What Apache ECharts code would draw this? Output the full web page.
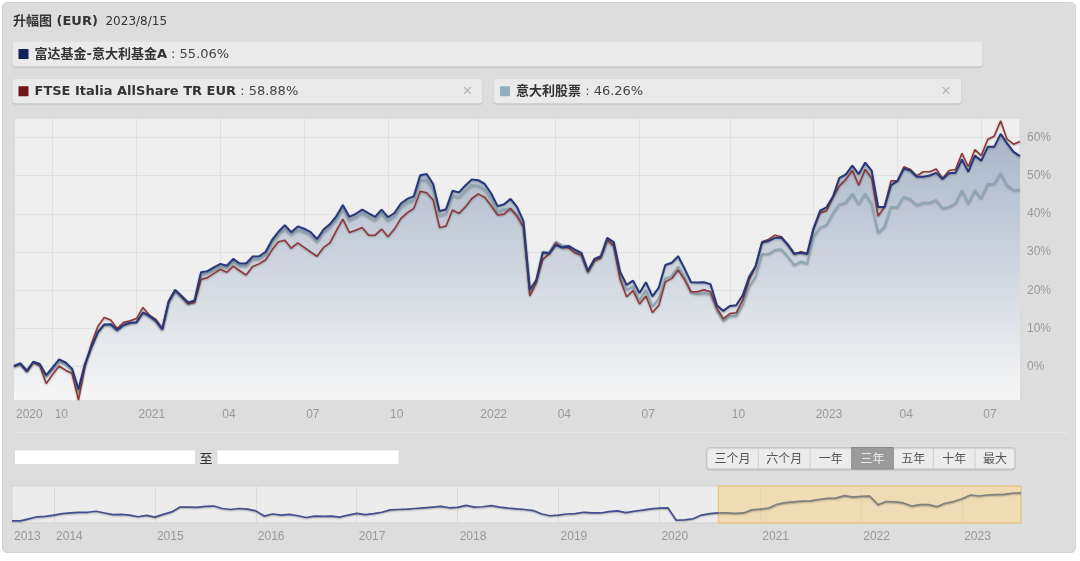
<!DOCTYPE html>
<html><head><meta charset="utf-8">
<script src="https://cdn.jsdelivr.net/npm/echarts@6/dist/echarts.min.js"></script>
<style>
html,body{margin:0;padding:0;background:#fff;}
#panel{position:absolute;left:2px;top:2px;width:1074px;height:551px;background:#dddddd;border:1px solid #d2d2d2;border-radius:5px;box-sizing:border-box;}
#c{position:absolute;left:0;top:0;width:1080px;height:561px;}
</style>
</head><body><div id="panel"></div><div id="c"></div>
<script>
// ---------- DATA ----------
const titleText = '升幅图 (EUR)';
const dateText = '2023/8/15';
const seriesNames = ['富达基金-意大利基金A', 'FTSE Italia AllShare TR EUR', '意大利股票'];
const seriesLast = ['55.06%', '58.88%', '46.26%'];

// weekly cumulative return (%) since 2020-08-14
const fund = [0.2,0.9,-1.1,1.3,0.7,-2.2,-0.2,1.9,1.1,-0.5,
-5.9,0.7,5.1,9.0,11.0,11.1,9.6,10.9,11.5,11.6,
14.2,13.3,12.0,9.8,17.2,20.1,18.5,16.8,17.3,24.7,
25.0,26.0,26.9,26.4,28.2,27.0,27.0,28.8,28.9,30.0,
33.1,35.3,37.0,35.2,36.7,36.1,35.2,33.4,35.9,37.3,
39.4,42.3,39.2,40.0,41.1,40.1,39.2,41.1,39.1,40.2,
42.7,43.9,44.6,50.1,50.4,47.8,40.7,41.2,46.0,45.6,
47.4,49.0,48.8,47.8,45.3,42.0,42.5,43.9,41.8,38.1,
20.2,22.7,29.9,29.6,31.8,31.2,31.6,30.6,29.8,25.1,
28.2,28.9,33.7,32.6,24.8,21.4,22.5,19.3,22.1,18.4,
20.7,26.6,27.2,28.9,25.6,22.1,22.0,22.1,21.6,16.1,
14.6,15.9,16.1,18.7,23.5,26.3,32.5,32.9,33.7,33.8,
32.0,29.6,29.8,29.5,36.2,40.8,41.7,44.5,49.4,50.3,
52.6,50.4,53.4,51.3,41.8,41.8,47.5,48.6,51.8,51.3,
49.7,49.7,50.0,50.7,49.1,50.6,50.7,54.2,51.0,55.2,
53.9,57.5,57.5,60.9,58.4,56.2,55.06];

const ftse = [0.1,0.7,-1.3,1.2,0.3,-4.4,-2.0,0.2,-0.9,-1.7,
-8.7,0.0,6.0,10.5,12.9,12.2,10.0,11.6,12.0,12.6,
15.5,13.5,12.4,10.0,17.0,20.0,18.3,16.5,16.8,22.8,
23.3,24.4,25.5,24.7,26.3,25.1,24.0,26.2,26.9,27.9,
30.5,32.7,33.1,31.0,32.4,31.2,30.0,28.9,31.2,32.4,
35.6,38.6,35.1,35.7,36.4,34.4,34.4,36.0,34.0,36.0,
38.8,40.3,41.4,45.9,45.5,43.6,36.4,36.8,41.0,40.1,
41.8,44.0,45.2,44.3,42.1,39.7,39.9,41.4,39.4,36.6,
18.5,22.2,28.1,29.6,32.4,31.2,31.1,29.8,29.2,24.8,
27.7,28.5,33.3,31.6,22.8,18.3,19.9,16.4,18.5,14.2,
16.1,22.2,23.1,25.3,22.7,19.6,19.6,20.1,19.6,15.3,
12.6,13.9,14.1,17.4,22.7,26.2,32.7,33.3,34.4,34.0,
31.8,29.4,30.1,29.6,36.2,40.3,40.8,44.3,47.3,49.0,
51.3,47.5,51.6,49.3,39.4,41.8,48.6,48.6,52.3,51.6,
49.9,51.0,51.0,51.7,49.3,51.3,51.6,55.8,52.3,56.8,
55.2,59.5,60.3,64.3,59.5,58.2,58.88];

const italy = [0.2,0.8,-1.0,1.2,0.5,-2.6,-0.8,1.3,0.6,-0.8,
-6.8,0.5,5.0,9.2,11.2,11.0,9.5,10.9,11.5,11.8,
14.0,13.2,11.9,9.7,16.9,19.8,18.2,16.5,17.0,24.0,
24.5,25.3,26.3,25.9,27.4,26.4,26.3,28.1,28.2,29.3,
32.3,34.6,36.1,34.5,35.8,35.3,34.4,32.6,35.1,36.5,
38.6,41.4,38.3,39.1,40.2,39.2,38.3,40.2,38.2,39.3,
41.8,43.0,43.6,48.8,49.0,46.4,39.6,40.0,44.8,44.3,
46.0,47.5,47.4,46.4,44.0,40.6,41.2,41.4,39.8,36.6,
19.2,22.0,30.1,30.0,32.7,31.8,31.6,30.2,29.2,24.6,
27.8,28.6,33.1,31.8,23.5,20.1,21.0,17.4,20.1,15.7,
17.9,23.1,23.7,26.2,23.5,19.4,19.0,19.2,19.0,14.8,
12.0,13.3,13.3,16.1,20.9,23.5,29.5,29.5,30.5,30.7,
28.8,26.6,27.5,27.0,34.0,36.4,37.1,40.1,42.5,42.9,
45.3,42.5,45.3,42.7,35.0,36.6,41.8,41.8,44.5,43.8,
42.3,42.9,42.9,43.6,41.4,41.8,42.7,46.2,42.7,46.2,
44.0,47.8,47.8,50.7,47.5,46.2,46.26];

// main x-axis tick labels (week index -> label)
const tickIndex = [0, 6, 19, 32, 45, 58, 72, 84, 97, 111, 124, 137, 150];
const tickLabel = ['2020', '10', '2021', '04', '07', '10', '2022', '04', '07', '10', '2023', '04', '07'];

// navigator: monthly fund index (Aug 2013 .. Aug 2023), arbitrary units
const navValues = [6,6,12,18,19,23,27,29,31,31,
34,29,24,25,23,18,22,17,25,32,
46,46,45,48,49,42,39,42,40,35,
20,26,23,25,21,16,20,19,20,17,
23,28,24,27,31,38,39,40,42,44,
46,48,44,45,51,46,47,50,46,43,
41,39,36,26,21,23,26,27,31,29,
29,33,35,30,34,37,41,43,44,8,
9,12,23,27,29,29,28,29,38,40,
43,54,59,61,63,64,68,71,72,79,
75,77,78,53,62,61,58,49,53,53,
47,57,62,70,81,78,81,82,83,86,
87];
const navTickIndex = [0, 5, 17, 29, 41, 53, 65, 77, 89, 101, 113];
const navTickLabel = ['2013', '2014', '2015', '2016', '2017', '2018', '2019', '2020', '2021', '2022', '2023'];
const navSelStart = 84; // Aug 2020

const rangeButtons = ['三个月', '六个月', '一年', '三年', '五年', '十年', '最大'];
const rangeSelected = 3;

// ---------- CATEGORIES ----------
const weekDates = fund.map((_, i) => {
  const d = new Date(Date.UTC(2020, 7, 14 + 7 * i));
  return d.toISOString().slice(0, 10);
});
const navMonths = navValues.map((_, m) => {
  const y = 2013 + Math.floor((7 + m) / 12);
  const mo = (7 + m) % 12 + 1;
  return y + '-' + (mo < 10 ? '0' + mo : mo);
});

// ---------- STYLE ----------
const FONT = '"Liberation Sans", Arial, "Noto Sans CJK SC", sans-serif';
const DV = '"DejaVu Sans", "Noto Sans CJK SC", sans-serif';
const CJK = '"Noto Sans CJK SC", sans-serif';
const C_FUND = '#26377c', C_FTSE = '#8e3838', C_ITALY = '#8fa7b5';
const SQ = ['#14205c', '#6e1616', '#8fb1bf'];
const AX = '#9a9a9a', GRID = '#e0e0e0';

const chart = echarts.init(document.getElementById('c'), null, {renderer: 'canvas'});

const shadowLine = (color, w) => ({color, width: w, shadowColor: 'rgba(0,0,0,0.28)', shadowBlur: 2, shadowOffsetY: 1});

// graphic elements
const g = [];
g.push({type: 'text', x: 13, y: 22, style: {
  text: '{b|' + titleText + '}{n|  ' + dateText + '}',
  verticalAlign: 'middle',
  rich: {b: {fontFamily: DV, fontSize: 13, fontWeight: 'bold', fill: '#333'},
         n: {fontFamily: DV, fontSize: 12, fill: '#333'}}
}});
const boxes = [
  {x: 12.5, y: 41.5, w: 970, h: 25, close: false},
  {x: 12.5, y: 79, w: 470, h: 24.5, close: true},
  {x: 494, y: 79, w: 467, h: 24.5, close: true}
];
boxes.forEach((b, k) => {
  g.push({type: 'rect', shape: {x: b.x, y: b.y, width: b.w, height: b.h, r: 3},
    style: {fill: '#eaeaea', shadowColor: 'rgba(0,0,0,0.18)', shadowBlur: 1.5, shadowOffsetY: 1}});
  g.push({type: 'rect', shape: {x: b.x + 6, y: b.y + b.h / 2 - 5, width: 10, height: 10}, style: {fill: SQ[k]}});
  g.push({type: 'text', x: b.x + 22, y: b.y + b.h / 2 + 0.5, style: {
    text: '{b|' + seriesNames[k] + '}{n| : ' + seriesLast[k] + '}',
    verticalAlign: 'middle',
    rich: {b: {fontFamily: DV, fontSize: 13, fontWeight: 'bold', fill: '#333'},
           n: {fontFamily: DV, fontSize: 13, fill: '#444'}}
  }});
  if (b.close) {
    g.push({type: 'text', x: b.x + b.w - 15, y: b.y + b.h / 2, style: {
      text: '×', fontFamily: FONT, fontSize: 17, fill: '#b5b5b5', align: 'center', verticalAlign: 'middle'}});
  }
});
// separator
g.push({type: 'line', shape: {x1: 14, y1: 432.5, x2: 1068, y2: 432.5}, style: {stroke: '#e6e6e6', lineWidth: 1}});
// date inputs
g.push({type: 'rect', shape: {x: 14.5, y: 450, width: 181, height: 14.5}, style: {fill: '#fff', stroke: '#d3d3d3', lineWidth: 0.6}});
g.push({type: 'text', x: 206, y: 458, style: {text: '至', fontFamily: CJK, fontSize: 13, fill: '#333', align: 'center', verticalAlign: 'middle'}});
g.push({type: 'rect', shape: {x: 217, y: 450, width: 182, height: 14.5}, style: {fill: '#fff', stroke: '#d3d3d3', lineWidth: 0.6}});
// range buttons
const edges = [706.7, 758.3, 810, 851.7, 893.3, 933.3, 975, 1015];
g.push({type: 'rect', shape: {x: edges[0], y: 447.5, width: edges[7] - edges[0], height: 21.5, r: 3},
  style: {fill: '#ececec', stroke: '#c6c6c6', lineWidth: 1, shadowColor: 'rgba(0,0,0,0.12)', shadowBlur: 1, shadowOffsetY: 1}});
rangeButtons.forEach((t, k) => {
  const x0 = edges[k], x1 = edges[k + 1];
  if (k === rangeSelected) {
    g.push({type: 'rect', shape: {x: x0, y: 447.5, width: x1 - x0, height: 21.5}, style: {fill: '#9b9b9b', stroke: '#8a8a8a', lineWidth: 1}});
  } else if (k > 0 && k !== rangeSelected + 1) {
    g.push({type: 'line', shape: {x1: x0, y1: 448, x2: x0, y2: 468.5}, style: {stroke: '#cfcfcf', lineWidth: 1}});
  }
  g.push({type: 'text', x: (x0 + x1) / 2, y: 458.5, style: {text: t, fontFamily: CJK, fontSize: 12,
    fill: k === rangeSelected ? '#ececec' : '#555', align: 'center', verticalAlign: 'middle'}});
});

const areaGrad = new echarts.graphic.LinearGradient(0, 0, 0, 1, [
  {offset: 0, color: '#a8b5c8'}, {offset: 1, color: '#f6f6f6'}]);

const option = {
  backgroundColor: 'transparent',
  animation: false,
  textStyle: {fontFamily: FONT},
  graphic: g,
  grid: [
    {left: 14, top: 118, width: 1006, height: 282, show: true, backgroundColor: '#efefef', borderColor: '#d7d7d7', borderWidth: 1, outerBoundsMode: 'none'},
    {left: 12, top: 486, width: 1009, height: 37, show: true, backgroundColor: '#ececec', borderColor: '#d3d3d3', borderWidth: 1, outerBoundsMode: 'none'}
  ],
  xAxis: [
    {type: 'category', gridIndex: 0, data: weekDates, boundaryGap: false,
     axisLine: {show: false}, axisTick: {show: false},
     axisLabel: {interval: (i) => tickIndex.indexOf(i) >= 0,
                 formatter: (v, i) => tickLabel[tickIndex.indexOf(i)],
                 align: 'left', padding: [0, 0, 0, 2], color: AX, fontSize: 12, margin: 9, fontFamily: FONT},
     splitLine: {show: true, interval: (i) => tickIndex.indexOf(i) >= 0, lineStyle: {color: GRID, width: 1}}},
    {type: 'category', gridIndex: 1, data: navMonths, boundaryGap: false,
     axisLine: {show: false}, axisTick: {show: false},
     axisLabel: {interval: (i) => navTickIndex.indexOf(i) >= 0,
                 formatter: (v, i) => navTickLabel[navTickIndex.indexOf(i)],
                 align: 'left', padding: [0, 0, 0, 2], color: AX, fontSize: 12, margin: 8, fontFamily: FONT},
     splitLine: {show: true, interval: (i) => navTickIndex.indexOf(i) > 0, lineStyle: {color: '#dadada', width: 1}}}
  ],
  yAxis: [
    {type: 'value', gridIndex: 0, position: 'right', min: -8.7, max: 65.05, splitNumber: 8,
     axisLine: {show: false}, axisTick: {show: false},
     axisLabel: {formatter: '{value}%', color: AX, fontSize: 12, margin: 7, showMinLabel: false, showMaxLabel: false, fontFamily: FONT},
     splitLine: {lineStyle: {color: GRID, width: 1}}},
    {type: 'value', gridIndex: 1, min: 0, max: 107, show: false, splitLine: {show: false}}
  ],
  series: [
    {name: 'fundArea', type: 'line', data: fund, symbol: 'none', silent: true,
     lineStyle: {width: 0, opacity: 0}, areaStyle: {origin: 'start', color: areaGrad, opacity: 1}},
    {name: seriesNames[2], type: 'line', data: italy, symbol: 'none', lineStyle: shadowLine(C_ITALY, 2)},
    {name: seriesNames[1], type: 'line', data: ftse, symbol: 'none', lineStyle: shadowLine(C_FTSE, 1.6)},
    {name: seriesNames[0], type: 'line', data: fund, symbol: 'none', lineStyle: shadowLine(C_FUND, 2)},
    {name: 'navA', type: 'line', xAxisIndex: 1, yAxisIndex: 1, symbol: 'none',
     data: navValues.map((v, i) => (i <= navSelStart ? v : null)),
     lineStyle: {color: '#434f8c', width: 1.7, shadowColor: 'rgba(0,0,0,0.25)', shadowBlur: 1.5, shadowOffsetY: 1}},
    {name: 'navB', type: 'line', xAxisIndex: 1, yAxisIndex: 1, symbol: 'none',
     data: navValues.map((v, i) => (i >= navSelStart ? v : null)),
     lineStyle: {color: '#7f7f7f', width: 1.7, shadowColor: 'rgba(0,0,0,0.25)', shadowBlur: 1.5, shadowOffsetY: 1},
     markArea: {silent: true, itemStyle: {color: 'rgba(244,200,115,0.45)', borderColor: '#e6c164', borderWidth: 1},
                data: [[{xAxis: navMonths[navSelStart]}, {xAxis: navMonths[navMonths.length - 1]}]]}}
  ]
};
chart.setOption(option);
</script>
</body></html>
